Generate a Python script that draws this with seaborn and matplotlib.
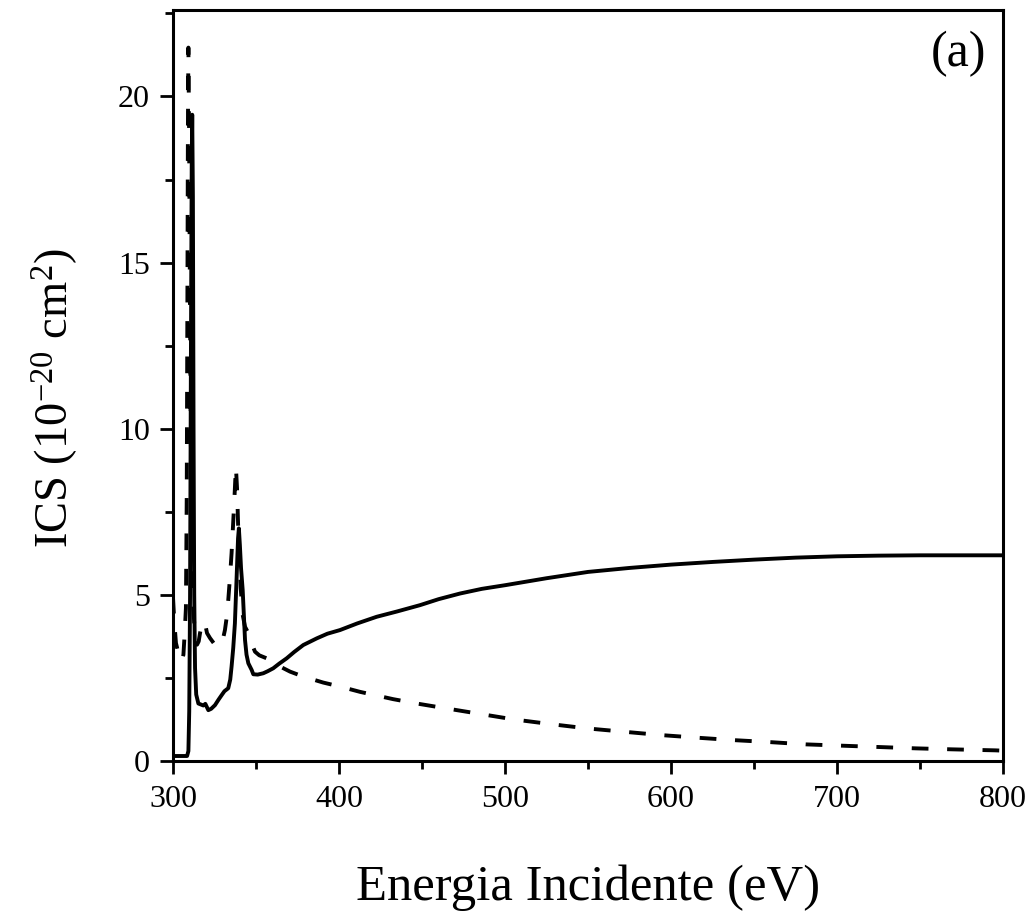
import numpy as np
import pandas as pd
import matplotlib
matplotlib.use("Agg")
import matplotlib.pyplot as plt
from matplotlib.ticker import MultipleLocator
import seaborn as sns

# ---- data ----
solid_E = [300, 308.5, 309.3, 309.8, 310.3, 310.8, 311.3, 311.6, 312.0, 312.4, 312.8,
           313.3, 314, 315.3, 318.3, 319.5, 321.3, 323, 325.3, 327.5, 329.3, 331,
           333.3, 334.5, 335.3, 336.3, 337.3, 338.4, 339.2, 339.7, 340.3, 341, 342,
           343.4, 344.3, 345.4, 347.4, 348.4, 351, 354.4, 357, 360.4, 364, 368.5,
           373, 378.5, 386.6, 393, 400.6, 411, 422.7, 435, 448.8, 460, 472.9, 486,
           500, 525, 550, 575, 600, 625, 650, 675, 700, 725, 750, 775, 800]
solid_ICS = [0.15, 0.15, 0.3, 1.5, 5, 12, 18, 19.45, 17, 10, 5,
             2.8, 2.0, 1.73, 1.67, 1.72, 1.53, 1.57, 1.68, 1.85, 1.98, 2.1,
             2.19, 2.45, 2.84, 3.4, 4.14, 5.6, 6.7, 7.0, 6.5, 5.8, 5.14,
             3.64, 3.2, 2.94, 2.74, 2.61, 2.6, 2.64, 2.7, 2.79, 2.93, 3.09,
             3.28, 3.49, 3.69, 3.83, 3.94, 4.14, 4.34, 4.5, 4.69, 4.87, 5.04, 5.18,
             5.29, 5.5, 5.69, 5.81, 5.91, 5.99, 6.06, 6.12, 6.16, 6.18, 6.19, 6.19, 6.19]

dashed_E = [300, 300.8, 301.8, 303.5, 305.3, 306.3, 307, 307.8, 308.3, 308.7, 309.0,
            309.3, 309.7, 310.2, 310.8, 311.5, 312.3, 313.3, 314.5, 315.5, 316.3,
            317.3, 318.3, 319.5, 320.5, 322.3, 324.5, 326.5, 328.3, 329.8, 331.3,
            332.3, 333.3, 334.3, 335.3, 336.3, 337.2, 337.9, 338.6, 339.3, 339.9,
            340.8, 342.0, 343.4, 346, 347.7, 349.4, 352, 356.4, 363, 370.5, 378.5,
            390.5, 400.6, 412.7, 432.7, 448, 464.9, 483.3, 505.4, 527.5, 549.6,
            571.7, 593.9, 616, 636.9, 659, 681.2, 703.3, 725.4, 747.5, 769.6, 795.4, 800]
dashed_ICS = [4.94, 4.2, 3.55, 3.2, 3.0, 3.2, 3.8, 4.6, 8, 14, 19,
              21.47, 19, 14, 9.4, 6.5, 4.6, 3.7, 3.5, 3.6, 3.85,
              4.1, 4.21, 4.1, 3.85, 3.7, 3.55, 3.45, 3.46, 3.6, 3.94,
              4.3, 4.84, 5.5, 6.25, 7.2, 8.1, 8.86, 8.2, 7.0, 6.2,
              5.2, 4.4, 4.04, 3.79, 3.5, 3.29, 3.18, 3.09, 2.88, 2.69, 2.54,
              2.36, 2.24, 2.08, 1.86, 1.72, 1.58, 1.43, 1.25, 1.11, 0.98,
              0.88, 0.78, 0.70, 0.63, 0.57, 0.50, 0.46, 0.42, 0.38, 0.35, 0.32, 0.31]

x_ticks = [300, 400, 500, 600, 700, 800]
y_ticks = [0, 5, 10, 15, 20]

# ---- style ----
sns.set_style("ticks")
plt.rcParams['font.family'] = ['Liberation Serif', 'DejaVu Serif']
plt.rcParams['mathtext.fontset'] = 'custom'
plt.rcParams['mathtext.rm'] = 'Liberation Serif'
plt.rcParams['mathtext.it'] = 'Liberation Serif:italic'
plt.rcParams['text.color'] = 'black'
plt.rcParams['axes.labelcolor'] = 'black'
plt.rcParams['xtick.color'] = 'black'
plt.rcParams['ytick.color'] = 'black'

fig = plt.figure(figsize=(10.32, 9.13), dpi=100)
ax = fig.add_axes([0.1676, 0.1665, 0.8044, 0.8225])

df_s = pd.DataFrame({"E": solid_E, "ICS": solid_ICS})
df_d = pd.DataFrame({"E": dashed_E, "ICS": dashed_ICS})

sns.lineplot(data=df_s, x="E", y="ICS", ax=ax, color="black", lw=2.8,
             estimator=None, sort=False)
sns.lineplot(data=df_d, x="E", y="ICS", ax=ax, color="black", lw=2.8,
             estimator=None, sort=False)
ax.lines[1].set_dashes([4.3, 4.8])

ax.set_xlim(300, 800)
ax.set_ylim(0, 22.6)
ax.set_xticks(x_ticks)
ax.set_yticks(y_ticks)
ax.xaxis.set_minor_locator(MultipleLocator(50))
ax.yaxis.set_minor_locator(MultipleLocator(2.5))

for s in ax.spines.values():
    s.set_linewidth(2.2)
    s.set_color("black")
    s.set_visible(True)

ax.tick_params(axis="both", which="major", direction="out", length=9.5, width=2.0,
               labelsize=23, colors="black")
ax.tick_params(axis="both", which="minor", direction="out", length=5.5, width=2.0)
ax.tick_params(axis="x", which="major", pad=8)
ax.tick_params(axis="y", which="major", pad=7)

ax.set_xlabel("Energia Incidente (eV)", fontsize=36.5, labelpad=36, color="black")
ax.set_ylabel(r"ICS (10$^{\mathrm{-20}}$ cm$^{\mathrm{2}}$)", fontsize=33.5,
              color="black")
ax.yaxis.set_label_coords(-0.112, 0.483)

ax.text(0.98, 0.973, "(a)", transform=ax.transAxes, ha="right", va="top",
        fontsize=36, color="black")

fig.savefig("out.png", dpi=100)
